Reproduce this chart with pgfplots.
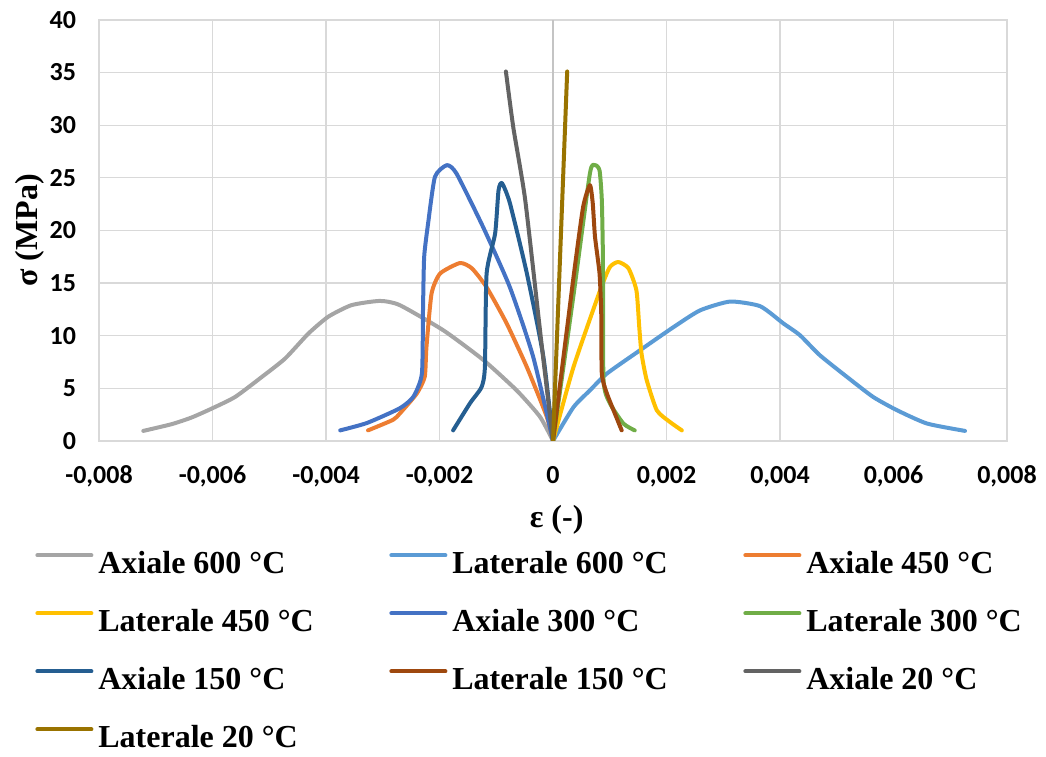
\documentclass[border=0pt]{standalone}
\usepackage{fontspec}
\setmainfont{Liberation Serif}
\newfontfamily\carlito{Carlito}
\usepackage{pgfplots}
\pgfplotsset{compat=1.18}
\definecolor{cAsix}{HTML}{A5A5A5}
\definecolor{cLsix}{HTML}{5B9BD5}
\definecolor{cAfour}{HTML}{ED7D31}
\definecolor{cLfour}{HTML}{FFC000}
\definecolor{cAthree}{HTML}{4472C4}
\definecolor{cLthree}{HTML}{70AD47}
\definecolor{cAone}{HTML}{255E91}
\definecolor{cLone}{HTML}{9E480E}
\definecolor{cAtw}{HTML}{636363}
\definecolor{cLtw}{HTML}{997300}
\definecolor{gridc}{HTML}{D9D9D9}
\definecolor{zeroc}{HTML}{C4C4C4}
\begin{document}
\begin{tikzpicture}
\begin{axis}[
  scale only axis, width=454pt, height=210.5pt,
  xmin=-0.008, xmax=0.008, ymin=0, ymax=40,
  xtick={-0.008,-0.006,-0.004,-0.002,0,0.002,0.004,0.006,0.008},
  xticklabels={{-0,008},{-0,006},{-0,004},{-0,002},0,{0,002},{0,004},{0,006},{0,008}},
  ytick={0,5,10,15,20,25,30,35,40},
  yticklabels={0,5,10,15,20,25,30,35,40},
  scaled x ticks=false, scaled y ticks=false,
  major tick length=0pt,
  grid=major, grid style={draw=gridc, line width=0.6pt},
  axis line style={draw=gridc, line width=0.6pt},
  ticklabel style={font=\carlito\bfseries\fontsize{13}{15}\selectfont},
  xticklabel style={yshift=-9pt},
  yticklabel style={xshift=-8pt},
  extra x ticks={0}, extra x tick labels={},
  extra x tick style={grid style={draw=zeroc, line width=0.7pt}},
  xlabel={ε (-)}, ylabel={σ (MPa)},
  label style={font=\bfseries\fontsize{16}{18}\selectfont},
  xlabel style={at={(axis description cs:0.504,-0.188)}, anchor=center},
  ylabel style={at={(axis description cs:-0.076,0.5)}, anchor=center},
  legend columns=3,
  legend cell align=left,
  legend style={at={(axis description cs:-0.0705,-0.2615)}, anchor=north west,
    draw=none, fill=none, inner sep=0pt, row sep=17pt,
    font=\bfseries\fontsize{16}{18}\selectfont,
    /tikz/every odd column/.append style={column sep=2.5pt},
    nodes={inner sep=0pt, text height=11pt, text depth=1pt}},
  legend image code/.code={\draw[#1, line width=2pt] (0pt,4pt) -- (27pt,4pt);},
  every axis plot/.append style={line width=2pt, smooth, tension=0.35, line cap=round, line join=round},
]
\coordinate (bl) at (rel axis cs:0,0);
\coordinate (tr) at (rel axis cs:1,1);
\addplot[cAsix] coordinates {(-0.00722,0.95) (-0.00672,1.59) (-0.00637,2.22) (-0.00601,3.08) (-0.0056,4.18) (-0.00513,6.08) (-0.00472,7.83) (-0.00431,10.2) (-0.00396,11.8) (-0.00355,12.9) (-0.00305,13.3) (-0.0027,12.9) (-0.00193,10.5) (-0.00123,7.7) (-0.00064,4.8) (-0.00023,2.3) (0,0)};
\addlegendentry{\makebox[145.5pt][l]{Axiale 600 °C}}
\addplot[cLsix] coordinates {(0,0) (0.00036,3.2) (0.00065,4.8) (0.00095,6.4) (0.00153,8.6) (0.00212,10.8) (0.00259,12.4) (0.00312,13.24) (0.00365,12.8) (0.00406,11.16) (0.00435,10.05) (0.0047,8.15) (0.00518,6.08) (0.00564,4.18) (0.00606,2.92) (0.00659,1.65) (0.00726,0.95)};
\addlegendentry{\makebox[145.5pt][l]{Laterale 600 °C}}
\addplot[cAfour] coordinates {(-0.00326,1.0) (-0.00282,2.0) (-0.0027,2.6) (-0.0024,4.5) (-0.00226,6.1) (-0.00223,8.9) (-0.00214,14.0) (-0.00199,15.9) (-0.00164,16.9) (-0.00143,16.4) (-0.00117,14.6) (-0.00082,11.2) (-0.00046,7.0) (-0.00011,2.3) (0,0)};
\addlegendentry{Axiale 450 °C}
\addplot[cLfour] coordinates {(0,0) (0.00036,7.0) (0.00083,14.3) (0.001,16.5) (0.00115,17.0) (0.00133,16.4) (0.00147,14.3) (0.00152,10.8) (0.00156,8.3) (0.00165,5.8) (0.00183,2.9) (0.00206,1.8) (0.00227,1.0)};
\addlegendentry{\makebox[145.5pt][l]{Laterale 450 °C}}
\addplot[cAthree] coordinates {(-0.00375,1.0) (-0.00328,1.7) (-0.0027,3.1) (-0.00246,4.2) (-0.00231,6.4) (-0.00229,12.7) (-0.00227,17.5) (-0.0022,20.7) (-0.00208,25.1) (-0.00187,26.2) (-0.0017,25.4) (-0.00123,20.3) (-0.00076,14.6) (-0.00035,8.0) (0,0)};
\addlegendentry{\makebox[145.5pt][l]{Axiale 300 °C}}
\addplot[cLthree] coordinates {(0,0) (0.00036,13.8) (0.00065,25.4) (0.00074,26.2) (0.00082,25.7) (0.00086,22.9) (0.00088,17.2) (0.00089,5.8) (0.001,3.6) (0.00124,1.65) (0.00144,1.0)};
\addlegendentry{Laterale 300 °C}
\addplot[cAone] coordinates {(-0.00176,1.0) (-0.00146,3.6) (-0.00126,5.1) (-0.0012,7.0) (-0.00117,15.9) (-0.00102,19.7) (-0.00096,23.8) (-0.0009,24.5) (-0.00076,22.6) (-0.00046,15.9) (-0.00017,8.0) (0,0)};
\addlegendentry{\makebox[145.5pt][l]{Axiale 150 °C}}
\addplot[cLone] coordinates {(0,0) (0.00036,15.5) (0.00053,22.2) (0.00065,24.3) (0.0007,22.6) (0.00074,19.4) (0.00082,15.9) (0.00085,12.1) (0.00086,6.4) (0.00095,4.5) (0.00109,2.6) (0.00121,1.0)};
\addlegendentry{\makebox[145.5pt][l]{Laterale 150 °C}}
\addplot[cAtw] coordinates {(0,0) (-0.00021,9.6) (-0.00049,22.9) (-0.0007,29.8) (-0.00083,35.1)};
\addlegendentry{Axiale 20 °C}
\addplot[cLtw] coordinates {(0,0) (0.00025,35.1)};
\addlegendentry{\makebox[145.5pt][l]{Laterale 20 °C}}
\end{axis}
\pgfresetboundingbox
\path ([xshift=-49.5pt,yshift=-157.65pt]bl) rectangle ([xshift=19.5pt,yshift=9.95pt]tr);
\end{tikzpicture}
\end{document}
